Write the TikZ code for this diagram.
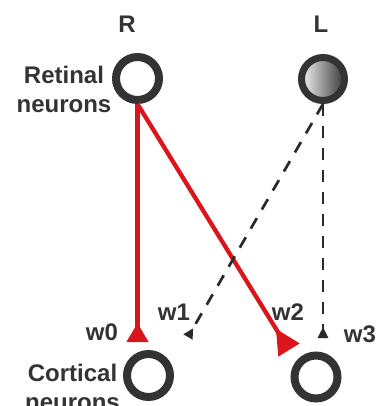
\documentclass[tikz,border=0pt]{standalone}
\usepackage{fontspec}
\setmainfont{Liberation Sans}
\usetikzlibrary{arrows.meta}
\definecolor{ink}{HTML}{333333}
\definecolor{synred}{RGB}{218,22,28}
\begin{document}
\begin{tikzpicture}[x=1pt,y=-1pt,
  ring/.style={circle,draw=ink,line width=8pt,minimum size=43pt,inner sep=0pt},
  lbl/.style={text=ink,font=\bfseries\fontsize{24}{29}\selectfont,inner sep=0pt},
  excit/.style={draw=synred,line width=4.3pt},
  inhib/.style={draw=ink!80!black,line width=2.7pt,dash pattern=on 12pt off 10pt}]
\useasboundingbox (0,0) rectangle (382,406);
% retinal neurons (right and left eye)
\node[ring] (r) at (137.5,78.5) {};
\node[ring,line width=7pt,shading=axis,left color=gray!10,right color=black!78] (l) at (323,79) {};
% cortical neurons
\node[ring] (c0) at (148.5,375.5) {};
\node[ring] (c1) at (316,377) {};
% eye labels
\node[lbl] (rl) at (127,24) {R};
\node[lbl] (ll) at (321,24) {L};
\node[lbl,align=center] (ret) at (64,89.5) {Retinal\\neurons};
\node[lbl,align=center] (cor) at (72.5,387) {Cortical\\neurons};
% synapse end points
\coordinate (e0) at (137.5,342);
\coordinate (e2) at (289,350);
\coordinate (e1) at (188,337);
\coordinate (e3) at (323,338);
% connections
\draw[excit,-{Triangle[reversed,length=19pt,width=21pt]}] (r.south) -- (e0);
\draw[excit,-{Triangle[reversed,length=25pt,width=24pt]}] (r.south) -- (e2);
\draw[inhib,-{Triangle[reversed,length=10pt,width=10pt]}] (l.south) -- (e1);
\draw[inhib,-{Triangle[reversed,length=11pt,width=10pt]}] (l.south) -- (e3);
% weights
\node[lbl] (w0) at (102,332) {w0};
\node[lbl] (w1) at (174,312) {w1};
\node[lbl] (w2) at (288,312) {w2};
\node[lbl] (w3) at (360,334) {w3};
\end{tikzpicture}
\end{document}
